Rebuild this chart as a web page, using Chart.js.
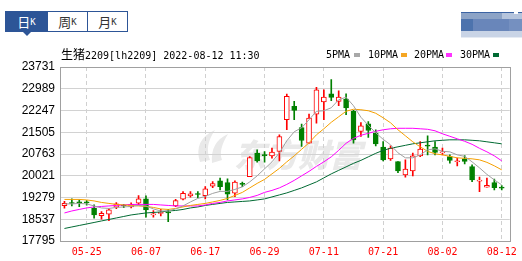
<!DOCTYPE html>
<html><head><meta charset="utf-8">
<script src="https://cdn.jsdelivr.net/npm/chart.js@4.4.0/dist/chart.umd.min.js"></script>
<style>
html,body{margin:0;padding:0;background:#fff;width:522px;height:261px;overflow:hidden;}
#wrap{position:relative;width:522px;height:261px;}
#c{position:absolute;left:0;top:0;}
.tabs{position:absolute;left:5px;top:11px;width:121px;height:19px;border:1px solid #2d5597;display:flex;background:#fff;}
.tab{height:19px;display:flex;align-items:center;justify-content:center;color:#333;}
.tab .cj{font-family:"Noto Sans CJK SC";font-size:13px;line-height:13px;}
.tab .k{font-family:"DejaVu Sans Mono";font-size:9px;line-height:9px;margin-top:2px;}
.tab.sel{background:#2d5597;color:#fff;}
.t1{width:41px;}
.t2{width:39px;border-left:1px solid #2d5597;}
.t3{width:39px;border-left:1px solid #2d5597;}
.ptr{position:absolute;left:23px;top:32px;width:0;height:0;border-left:4px solid transparent;border-right:4px solid transparent;border-top:4px solid #2d5597;}
.title{position:absolute;left:61px;top:47px;white-space:nowrap;color:#000;line-height:13px;}
.title .cj{font-family:"Noto Sans CJK SC";font-size:12px;}
.title .m{font-family:"DejaVu Sans Mono";font-size:10px;}
.lg{position:absolute;top:49px;font-family:"DejaVu Sans Mono";font-size:10px;line-height:12px;color:#000;white-space:nowrap;}
.sq{position:absolute;top:53px;width:6px;height:4px;}
.img{position:absolute;left:461px;top:12px;width:61px;height:26px;overflow:hidden;}
.img div{position:absolute;}
</style></head>
<body><div id="wrap">
<canvas id="c" width="522" height="261"></canvas>
<div class="tabs">
 <div class="tab sel t1"><span class="cj">日</span><span class="k">K</span></div>
 <div class="tab t2"><span class="cj">周</span><span class="k">K</span></div>
 <div class="tab t3"><span class="cj">月</span><span class="k">K</span></div>
</div>
<div class="ptr"></div>
<div class="title"><span class="cj">生猪</span><span class="m">2209[lh2209] 2022-08-12 11:30</span></div>
<div class="lg" style="left:326px">5PMA</div><div class="sq" style="left:354px;background:#a8a8a8"></div>
<div class="lg" style="left:368px">10PMA</div><div class="sq" style="left:401px;background:#f5a623"></div>
<div class="lg" style="left:414px">20PMA</div><div class="sq" style="left:446px;background:#ff33ff"></div>
<div class="lg" style="left:460px">30PMA</div><div class="sq" style="left:493px;background:#006a33"></div>
<div class="img">
 <div style="left:0;top:0;width:61px;height:1px;background:#3b63a3"></div>
 <div style="left:0;top:1px;width:41px;height:6px;background:#8ca3c6"></div>
 <div style="left:41px;top:1px;width:20px;height:6px;background:#b5c4dc"></div>
 <div style="left:0;top:7px;width:12px;height:12px;background:#4d73ad"></div>
 <div style="left:12px;top:7px;width:36px;height:12px;background:#6986ba"></div>
 <div style="left:48px;top:7px;width:13px;height:12px;background:#7590c0"></div>
 <div style="left:0;top:19px;width:61px;height:6px;background:#c9d4e6"></div>
 <div style="left:0;top:25px;width:61px;height:1px;background:#e6ebf3"></div>
 <div style="left:53px;top:0;width:4px;height:2px;background:#fff"></div>
</div>
</div>
<script>
const dates = ['05-20','05-23','05-24','05-25','05-26','05-27','05-30','05-31','06-01','06-02',
 '06-06','06-07','06-08','06-09','06-10','06-13','06-14','06-15','06-16','06-17',
 '06-20','06-21','06-22','06-23','06-24','06-27','06-28','06-29','06-30','07-01',
 '07-04','07-05','07-06','07-07','07-08','07-11','07-12','07-13','07-14','07-15',
 '07-18','07-19','07-20','07-21','07-22','07-25','07-26','07-27','07-28','07-29',
 '08-01','08-02','08-03','08-04','08-05','08-08','08-09','08-10','08-11','08-12'];
const xTickLabels = ['05-25','06-07','06-17','06-29','07-11','07-21','08-02','08-12'];
const yTicks = [17795,18537,19279,20021,20763,21505,22247,22989,23731];

const open = [19002,19090,19110,19105,18913,18660,18708,18947,19000,18957,
 19084,19231,18684,18735,18770,18991,19220,19333,19390,19343,
 19665,19846,19788,19425,19740,19993,20793,20720,20700,20847,
 21931,22385,21668,21134,22126,22536,22819,22556,22638,22215,
 21531,21794,21476,20998,20598,20506,20051,20188,20700,21050,
 20998,20800,20676,20500,20598,20335,19835,19630,19788,19615];
const high = [19152,19231,19200,19170,19025,18796,18899,19104,19050,19094,
 19343,19333,18831,18879,18879,19220,19480,19480,19480,19651,
 19822,19938,19914,19846,19801,20676,20905,20847,20963,21418,
 22809,22556,21784,22126,23035,22956,23298,22922,22819,22249,
 21838,21873,21589,21189,21042,20506,20564,20793,21189,21384,
 21189,20963,20734,20622,20711,20393,19972,19938,19904,19685];
const low = [18913,18991,18970,19020,18571,18537,18489,18899,18930,18923,
 19025,18605,18605,18650,18455,18967,19196,19289,19275,19231,
 19617,19538,19196,19309,19651,19993,20485,20485,20622,20529,
 21589,21931,21018,21134,21818,21931,22580,22409,22102,21134,
 21360,21326,21042,20529,20540,20129,19972,20017,20676,20734,
 20734,20734,20451,20359,20427,19822,19480,19630,19538,19538];
const close = [19084,19075,19100,19095,18684,18742,18855,19060,18990,19049,
 19231,18855,18718,18750,18755,19172,19425,19401,19380,19572,
 19754,19651,19391,19801,19728,20642,20529,20705,20827,21360,
 22727,22249,21223,21989,22956,22707,22693,22707,22331,21247,
 21726,21565,21110,20564,20963,20188,20246,20700,20929,21030,
 20813,20820,20540,20510,20506,19880,19856,19690,19617,19600];

const ma5 = [19060,19060,19077,19060,18991,18923,18906,18940,18957,18974,
 19008,18991,18889,18820,18820,18889,18991,19128,19248,19316,
 19419,19487,19487,19555,19641,19812,20017,20256,20495,20803,
 21213,21521,21657,21931,22221,22238,22341,22614,22700,22409,
 22016,21743,21486,21264,21076,20803,20632,20632,20734,20905,
 20940,20854,20837,20734,20683,20495,20290,20068,19880,19709];
const ma10 = [19213,19213,19213,19196,19162,19111,19077,19043,19025,19008,
 18991,18974,18940,18889,18872,18906,18957,19008,19043,19077,
 19128,19179,19248,19350,19453,19607,19760,19897,20085,20273,
 20495,20700,20922,21145,21418,21623,21845,22033,22221,22290,
 22273,22238,22153,21999,21828,21589,21384,21179,21008,20854,
 20769,20734,20683,20632,20615,20598,20564,20478,20359,20222];
const ma20 = [18752,18820,18872,18923,18957,18974,18991,19008,19025,19043,
 19043,19043,19043,19025,19008,18991,18991,18991,18991,19025,
 19077,19111,19162,19196,19231,19282,19350,19453,19521,19607,
 19726,19863,20017,20171,20341,20495,20666,20888,21128,21298,
 21401,21469,21538,21589,21623,21640,21640,21640,21623,21606,
 21555,21452,21367,21281,21196,21093,20957,20837,20700,20529];
const ma30 = [18222,18274,18325,18376,18427,18479,18530,18581,18632,18684,
 18718,18752,18769,18786,18820,18837,18872,18923,18957,19008,
 19043,19077,19111,19128,19145,19162,19196,19231,19299,19367,
 19436,19521,19607,19709,19812,19948,20085,20205,20324,20444,
 20546,20666,20786,20888,20957,21008,21059,21110,21145,21179,
 21213,21230,21247,21247,21247,21230,21213,21179,21145,21110];

const RED = '#ff0000', GREEN = '#008000';
const isUp = i => close[i] >= open[i];
const pts = arr => arr.map((v, i) => ({x: i, y: v}));
const tickIdx = xTickLabels.map(l => dates.indexOf(l));

const watermark = {
  id: 'watermark',
  beforeDraw(chart) {
    const ctx = chart.ctx;
    ctx.save();
    ctx.fillStyle = '#e9e9e9';
    ctx.beginPath();
    ctx.moveTo(200, 162); ctx.quadraticCurveTo(193, 140, 215, 130);
    ctx.quadraticCurveTo(204, 146, 210, 160); ctx.closePath(); ctx.fill();
    ctx.beginPath();
    ctx.moveTo(212, 163); ctx.quadraticCurveTo(210, 142, 228, 134);
    ctx.quadraticCurveTo(218, 150, 222, 160); ctx.closePath(); ctx.fill();
    ctx.font = 'italic 900 32px "Noto Sans CJK SC"';
    ctx.textBaseline = 'middle';
    ctx.fillText('东方财富', 234, 155);
    ctx.restore();
  }
};
const frame = {
  id: 'frame',
  beforeDatasetsDraw(chart) {
    const {ctx, chartArea: a} = chart;
    ctx.save();
    ctx.strokeStyle = '#a0a0a0';
    ctx.lineWidth = 1;
    ctx.strokeRect(Math.round(a.left) + 0.5, Math.round(a.top) + 0.5,
      Math.round(a.right - a.left), Math.round(a.bottom - a.top));
    ctx.restore();
  }
};

const lineDs = (label, arr, color, order) => ({
  type: 'line', label, data: pts(arr), borderColor: color, borderWidth: 1,
  pointRadius: 0, tension: 0, fill: false, order
});

new Chart(document.getElementById('c'), {
  data: {
    datasets: [
      lineDs('5PMA', ma5, '#a0a0a0', 0),
      lineDs('10PMA', ma10, '#f5a000', 1),
      lineDs('20PMA', ma20, '#ff00ff', 2),
      lineDs('30PMA', ma30, '#006a33', 3),
      {
        type: 'bar', label: 'body',
        data: dates.map((d, i) => ({x: i, y: [open[i], close[i]]})),
        backgroundColor: dates.map((d, i) => isUp(i) ? '#ffffff' : GREEN),
        borderColor: dates.map((d, i) => isUp(i) ? RED : GREEN),
        borderWidth: 1, borderSkipped: false, barThickness: 5,
        grouped: false, minBarLength: 1, order: 5
      },
      {
        type: 'bar', label: 'wick',
        data: dates.map((d, i) => ({x: i, y: [low[i], high[i]]})),
        backgroundColor: dates.map((d, i) => isUp(i) ? RED : GREEN),
        borderWidth: 0, barThickness: 1, grouped: false, order: 6
      }
    ]
  },
  options: {
    responsive: false, animation: false, events: [],
    layout: {padding: {top: 67, right: 12, left: 0, bottom: 0}},
    plugins: {legend: {display: false}, tooltip: {enabled: false}, title: {display: false}},
    scales: {
      x: {
        type: 'linear', min: -0.6, max: 60.08, offset: false,
        afterBuildTicks: s => { s.ticks = tickIdx.map(v => ({value: v})); },
        afterFit: s => { s.height = 20; },
        grid: {color: '#d0d0d0', drawTicks: false, offset: false},
        border: {display: false, dash: [4, 3]},
        ticks: {color: '#ff0000', font: {family: 'DejaVu Sans Mono', size: 10},
          padding: 5, maxRotation: 0, autoSkip: false, callback: v => dates[v]}
      },
      y: {
        min: 17795, max: 23731,
        afterBuildTicks: s => { s.ticks = yTicks.map(v => ({value: v})); },
        afterFit: s => { s.width = 60; },
        grid: {color: '#d2d2d2', drawTicks: false},
        border: {display: false},
        ticks: {color: '#000', font: {family: 'Liberation Sans', size: 12},
          padding: 5, autoSkip: false, callback: v => String(v)}
      }
    }
  },
  plugins: [watermark, frame]
});
</script>
</body></html>
